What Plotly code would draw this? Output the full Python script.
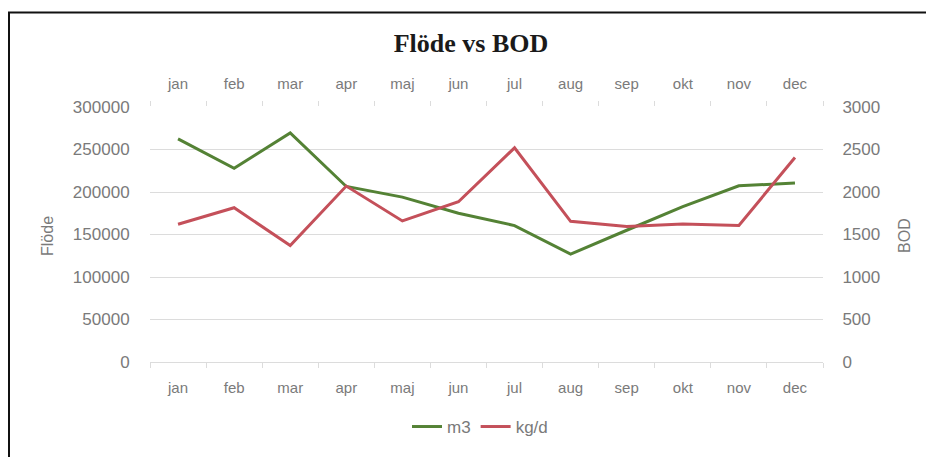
import plotly.graph_objects as go

months = ["jan", "feb", "mar", "apr", "maj", "jun", "jul", "aug", "sep", "okt", "nov", "dec"]
m3 = [262500, 227800, 269500, 206500, 194000, 175000, 160500, 127000, 155000, 182800, 207300, 210500]
kgd = [1620, 1815, 1370, 2070, 1660, 1885, 2520, 1655, 1595, 1625, 1607, 2405]

GREEN = "#548235"
RED = "#c4505a"
TXT = "#7a7a7a"
GRID = "#dcdcdc"
TICKFONT = dict(family="Liberation Sans, sans-serif", size=15, color=TXT)
NUMFONT = dict(family="Liberation Sans, sans-serif", size=17, color=TXT)
LEGFONT = dict(family="Liberation Sans, sans-serif", size=17, color=TXT)

fig = go.Figure()
fig.add_trace(go.Scatter(x=months, y=m3, name="m3", mode="lines",
                         line=dict(color=GREEN, width=3), xaxis="x", yaxis="y"))
fig.add_trace(go.Scatter(x=months, y=kgd, name="kg/d", mode="lines",
                         line=dict(color=RED, width=3), xaxis="x", yaxis="y2"))
# invisible trace to populate the top category axis
fig.add_trace(go.Scatter(x=months, y=m3, mode="lines", line=dict(width=0),
                         opacity=0, showlegend=False, hoverinfo="skip",
                         xaxis="x2", yaxis="y"))

OFF = 8  # page body margin
W, H = 934 - OFF, 457 - OFF
L, R, T, B = 142, 111, 99, 91
pw, ph = W - L - R, H - T - B

def px_x(p):
    return (p - OFF - L) / pw

def px_y(p):
    return (H - B - (p - OFF)) / ph

fig.update_layout(
    width=W, height=H,
    margin=dict(l=L, r=R, t=T, b=B),
    paper_bgcolor="white", plot_bgcolor="white",
    title=dict(text="<b>Flöde vs BOD</b>", x=0.5, xanchor="center",
               y=1 - (43 - OFF) / H, yanchor="middle",
               font=dict(family="Liberation Serif, serif", size=26, color="#1a1a1a")),
    xaxis=dict(type="category", categoryorder="array", categoryarray=months,
               range=[-0.5, 11.5], showgrid=False, showline=True, linecolor=GRID,
               linewidth=1, ticks="outside", tickson="boundaries", ticklen=5,
               tickcolor=GRID, ticklabelstandoff=12, tickfont=TICKFONT, zeroline=False),
    xaxis2=dict(type="category", categoryorder="array", categoryarray=months,
                range=[-0.5, 11.5], overlaying="x", side="top", showgrid=False,
                showline=False, ticks="outside", tickson="boundaries", ticklen=5,
                tickcolor=GRID, ticklabelstandoff=14, tickfont=TICKFONT, zeroline=False),
    yaxis=dict(range=[0, 300000], dtick=50000, tickformat="d", showgrid=True,
               gridcolor=GRID, gridwidth=1, zeroline=False, showline=False,
               ticks="outside", ticklen=16, tickcolor="rgba(0,0,0,0)", tickfont=NUMFONT),
    yaxis2=dict(range=[0, 3000], dtick=500, tickformat="d", overlaying="y", side="right",
                showgrid=False, zeroline=False, showline=False,
                ticks="outside", ticklen=15, tickcolor="rgba(0,0,0,0)", tickfont=NUMFONT),
    showlegend=True,
    legend=dict(orientation="h", x=px_x(480), xanchor="center", y=px_y(432),
                yanchor="middle", font=LEGFONT, bgcolor="rgba(0,0,0,0)",
                itemwidth=30, tracegroupgap=0),
    annotations=[
        dict(text="Flöde", xref="paper", yref="paper", x=px_x(48), y=px_y(238),
             textangle=-90, showarrow=False, xanchor="center", yanchor="middle",
             font=dict(family="Liberation Sans, sans-serif", size=16, color=TXT)),
        dict(text="BOD", xref="paper", yref="paper", x=px_x(905), y=px_y(238),
             textangle=-90, showarrow=False, xanchor="center", yanchor="middle",
             font=dict(family="Liberation Sans, sans-serif", size=16, color=TXT)),
    ],
    shapes=[
        dict(type="rect", xref="paper", yref="paper",
             x0=px_x(OFF + 1), x1=px_x(945), y0=px_y(470), y1=px_y(11),
             line=dict(color="#111111", width=2), fillcolor="rgba(0,0,0,0)", layer="below"),
    ],
)

fig.write_html("out.html")
